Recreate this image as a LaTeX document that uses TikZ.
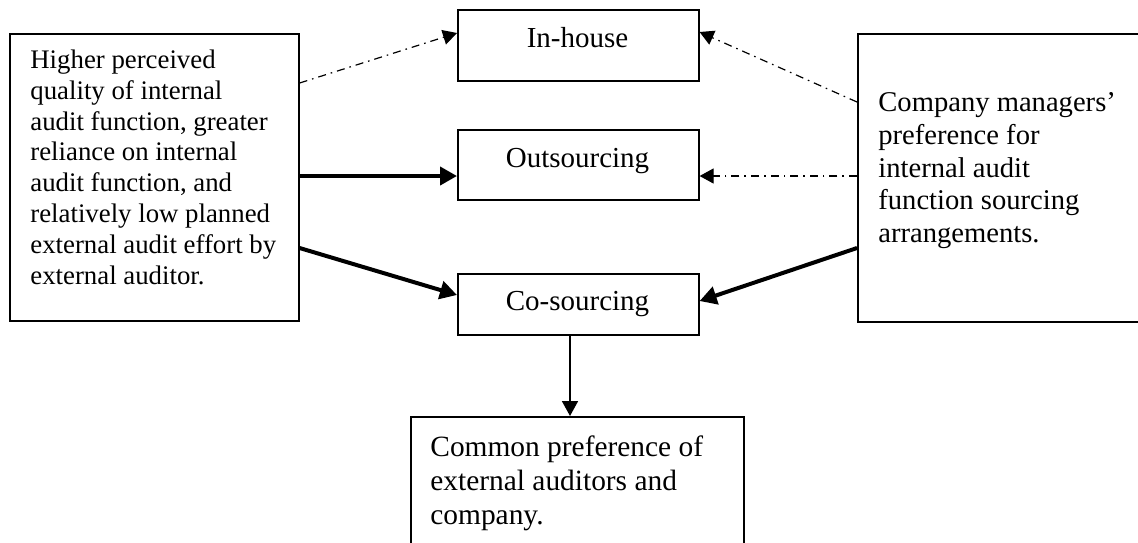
\documentclass[tikz,border=0pt]{standalone}
\usepackage{fontspec}
\setmainfont{Liberation Serif}
\usetikzlibrary{arrows.meta,calc}
\begin{document}
\begin{tikzpicture}[x=0.5pt,y=-0.5pt,
  box/.style={draw,line width=0.8pt,rectangle,inner sep=0pt,anchor=north west},
  txt/.style={inner sep=0pt,anchor=north west,align=left},
  ctxt/.style={inner sep=0pt,anchor=base,font=\fontsize{14.5}{16.5}\selectfont},
  dasharr/.style={line width=0.6pt,dash pattern=on 4pt off 2.5pt on 0.8pt off 2.5pt,-{Triangle[length=7pt,width=7.5pt]}},
  thickarr/.style={line width=2pt,-{Triangle[length=8.5pt,width=9pt]}},
  thinarr/.style={line width=0.85pt,-{Triangle[length=7.5pt,width=8pt]}}]
\useasboundingbox (0,0) rectangle (1138,542);
% boxes
\node[box,minimum width=144.5pt,minimum height=143.5pt] (L) at (9,33) {};
\node[box,minimum width=120.5pt,minimum height=35.5pt] (IH) at (457,9) {};
\node[box,minimum width=120.5pt,minimum height=35pt] (OS) at (457,129) {};
\node[box,minimum width=120.5pt,minimum height=30.5pt] (CS) at (457,273) {};
\node[box,minimum width=160pt,minimum height=144pt] (R) at (857,33) {};
\node[box,minimum width=166.5pt,minimum height=80pt] (C) at (410,416) {};
% texts
\node[txt,font=\fontsize{13.4}{15.4}\selectfont] (Lt) at (30,49.5) {Higher perceived\\quality of internal\\audit function, greater\\reliance on internal\\audit function, and\\relatively low planned\\external audit effort by\\external auditor.};
\node[txt,font=\fontsize{14.3}{16.4}\selectfont] (Rt) at (878,92) {Company managers’\\preference for\\internal audit\\function sourcing\\arrangements.};
\node[txt,font=\fontsize{14.7}{17}\selectfont] (Ct) at (430,435) {Common preference of\\external auditors and\\company.};
\node[ctxt] (IHt) at (577.5,47) {In-house};
\node[ctxt] (OSt) at (577.5,167) {Outsourcing};
\node[ctxt] (CSt) at (577.5,310) {Co-sourcing};
% connectors
\draw[dasharr] ($(L.north east)+(0,50)$) -- ($(IH.north west)+(0,24)$);
\draw[dasharr] ($(R.north west)+(0,69)$) -- ($(IH.north east)+(0,23)$);
\draw[dasharr] ($(R.north west)+(0,143)$) -- ($(OS.north east)+(0,47)$);
\draw[thickarr] ($(L.north east)+(0,143)$) -- ($(OS.north west)+(0,47)$);
\draw[thickarr] ($(L.north east)+(0,215)$) -- ($(CS.north west)+(0,22)$);
\draw[thickarr] ($(R.north west)+(0,215)$) -- ($(CS.north east)+(0,28)$);
\draw[thinarr] ($(CS.south west)+(113,0)$) -- ($(C.north west)+(160,0)$);
\end{tikzpicture}
\end{document}
